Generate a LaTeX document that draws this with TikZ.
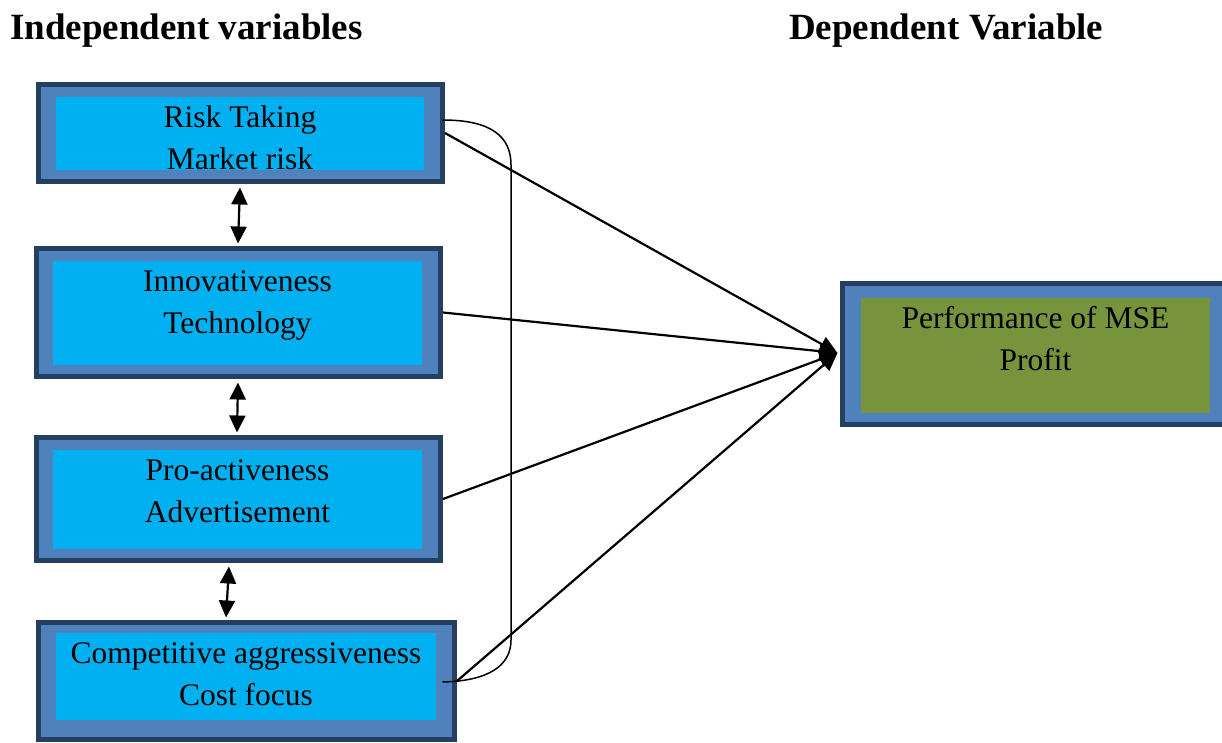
\documentclass[tikz,border=0pt]{standalone}
\usepackage{fontspec}
\setmainfont{Liberation Serif}
\usetikzlibrary{calc,arrows.meta}
\definecolor{darkb}{HTML}{243F60}
\definecolor{midb}{HTML}{4F81BD}
\definecolor{cyanb}{HTML}{00B0F0}
\definecolor{greenb}{HTML}{77933C}
\newcommand{\twolines}[2]{\begin{tabular}[t]{@{}c@{}}#1\\#2\end{tabular}}
\tikzset{
  outerbox/.style n args={2}{draw=darkb, fill=midb, line width=5pt, inner sep=0pt, minimum width=#1, minimum height=#2},
  innerbox/.style n args={3}{fill=#3, draw=none, inner sep=0pt, minimum width=#1, minimum height=#2},
  boxtext/.style={anchor=base, inner sep=0pt, font=\fontsize{31.5}{42}\selectfont},
  heading/.style={anchor=base west, inner sep=0pt, font=\bfseries\fontsize{37}{44}\selectfont},
  mainarrow/.style={line width=2.2pt, -{Triangle[length=18pt,width=16pt]}},
  dblarrow/.style={line width=2.2pt, {Triangle[length=17pt,width=16pt]}-{Triangle[length=17pt,width=16pt]}},
  bracket/.style={line width=1.5pt}
}
\begin{document}
\begin{tikzpicture}[x=1pt,y=1pt]
\useasboundingbox (0,0) rectangle (1222,742);
% headings
\node[heading] (h1) at (10,702) {Independent variables};
\node[heading] (h2) at (789,702) {Dependent Variable};
% boxes
\node[outerbox={404}{97}] (b1o) at (240.5,609) {};
\node[innerbox={368}{73}{cyanb}] (b1i) at (240,608.5) {};
\node[boxtext] (t1) at ($(b1i.north)+(0,-31)$) {\twolines{Risk Taking}{Market risk}};

\node[outerbox={404}{128}] (b2o) at (238.5,429.5) {};
\node[innerbox={369}{104}{cyanb}] (b2i) at (237.5,429) {};
\node[boxtext] (t2) at ($(b2i.north)+(0,-31)$) {\twolines{Innovativeness}{Technology}};

\node[outerbox={404}{123}] (b3o) at (238.5,243) {};
\node[innerbox={369}{99}{cyanb}] (b3i) at (237.5,242.5) {};
\node[boxtext] (t3) at ($(b3i.north)+(0,-31)$) {\twolines{Pro-activeness}{Advertisement}};

\node[outerbox={416}{117}] (b4o) at (246.5,61) {};
\node[innerbox={380}{87}{cyanb}] (b4i) at (246,65.5) {};
\node[boxtext] (t4) at ($(b4i.north)+(0,-31)$) {\twolines{Competitive aggressiveness}{Cost focus}};

\node[outerbox={386}{141}] (ro) at (1035.5,388) {};
\node[innerbox={349}{115}{greenb}] (ri) at (1035.5,386.5) {};
\node[boxtext] (tr) at ($(ri.north)+(0,-31)$) {\twolines{Performance of MSE}{Profit}};

% arrow target
\coordinate (tip) at ($(ro.west)+(-2.5,1)$);
\draw[mainarrow] (b1o.east) -- (tip);
\draw[mainarrow] (b2o.east) -- (tip);
\draw[mainarrow] (b3o.east) -- (tip);
\draw[mainarrow] (b4o.east) -- (tip);

% double arrows between boxes
\draw[dblarrow] ($(b1o.south)+(-0.5,-3.5)$) -- ($(b2o.north)+(-0.5,2.5)$);
\draw[dblarrow] ($(b2o.south)+(-0.5,-3.5)$) -- ($(b3o.north)+(-1.5,2.5)$);
\draw[dblarrow] ($(b3o.south)+(-9.5,-3.5)$) -- ($(b4o.north)+(-20.5,2.5)$);

% bracket curve
\coordinate (cs) at ($(b1o.east)+(-2.5,13)$);
\coordinate (ce) at ($(b4o.east)+(-14.5,-1)$);
\coordinate (ct) at (511,577);
\coordinate (cb) at (511,102);
\draw[bracket] (cs) .. controls (492,622) and (511,605) .. (ct) -- (cb) .. controls (511,76) and (488,61) .. (ce);
\end{tikzpicture}
\end{document}
